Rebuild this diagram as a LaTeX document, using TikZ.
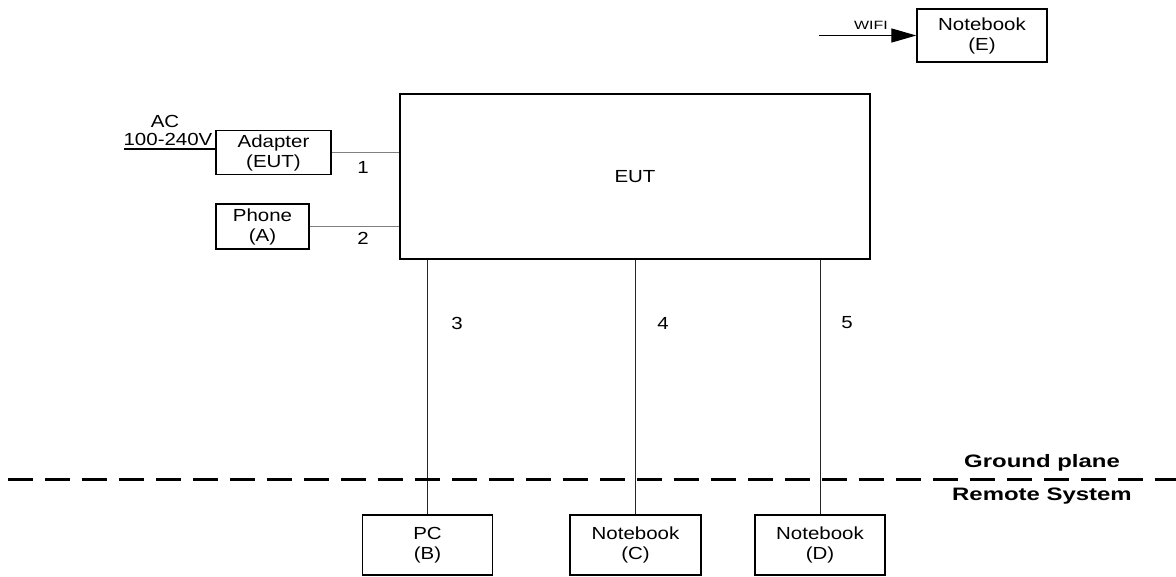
\documentclass[tikz,border=0pt]{standalone}
\usepackage{fontspec}
\setmainfont[FakeStretch=1.17]{Liberation Sans}
\newfontfamily\widefont[FakeStretch=1.33]{Liberation Sans}
\usetikzlibrary{arrows.meta,positioning}

\begin{document}
\begin{tikzpicture}[x=1pt,y=-1pt,
  box/.style={draw,line width=1.3pt,align=center,inner sep=0pt,
    font=\fontsize{17.5}{20}\selectfont},
  lbl/.style={font=\fontsize{17.5}{20}\selectfont,inner sep=0pt},
  cable/.style={line width=1pt,draw=black!85}]
\useasboundingbox (0,0) rectangle (1176,576);

\node[box,minimum width=470pt,minimum height=165pt] (1) at (635,176.5) {EUT};
\node[box,minimum width=115pt,minimum height=44pt] (2) at (273.5,152.5)
{Adapter\\(EUT)};
\node[box,minimum width=93pt,minimum height=45pt] (3) at (262.5,226.5)
{Phone\\(A)};
\node[box,minimum width=130pt,minimum height=60pt] (4) at (427.5,545)
{PC\\(B)};
\node[box,minimum width=131pt,minimum height=60pt] (5) at (635.5,545)
{Notebook\\(C)};
\node[box,minimum width=130pt,minimum height=60pt] (6) at (820,545)
{Notebook\\(D)};
\node[box,minimum width=130pt,minimum height=53pt] (7) at (982,35.5)
{Notebook\\(E)};

% power input
\coordinate (2a) at (124,149);
\draw[line width=1.2pt] (2a) -- (2a -| 2.west);
\node[lbl] (2b) at (165,121) {AC};
\node[lbl] (2c) at (168,139) {100-240V};

% wireless link
\coordinate (7a) at (819,35.5);
\draw[line width=1.2pt,-{Triangle[length=25pt,width=14pt]}] (7a) -- (7);
\node[font=\fontsize{12}{14}\selectfont\widefont,inner sep=0pt] (7b) at (871,25) {WIFI};

% cables
\draw[cable,draw=black!50,line width=1.3pt] (2.east) -- (2.east -| 1.west);
\draw[cable,draw=black!50,line width=1.3pt] (3.east) -- (3.east -| 1.west);
\draw[cable] (4.north |- 1.south) -- (4.north);
\draw[cable] (5.north |- 1.south) -- (5.north);
\draw[cable] (6.north |- 1.south) -- (6.north);
\node[lbl] (c1) at (363,167) {1};
\node[lbl] (c2) at (363,238) {2};
\node[lbl] (c3) at (457,323) {3};
\node[lbl] (c4) at (663,323) {4};
\node[lbl] (c5) at (847,323) {5};

% ground plane
\coordinate (g1) at (8,479);
\coordinate (g2) at (1176,479);
\draw[line width=3pt,dash pattern=on 25pt off 12pt] (g1) -- (g2);
\node[font=\fontsize{18}{20}\selectfont\widefont\bfseries,inner sep=0pt] (g3) at (1042,463) {Ground plane};
\node[font=\fontsize{18}{20}\selectfont\widefont\bfseries,inner sep=0pt] (g4) at (1042,496) {Remote System};
\end{tikzpicture}
\end{document}
